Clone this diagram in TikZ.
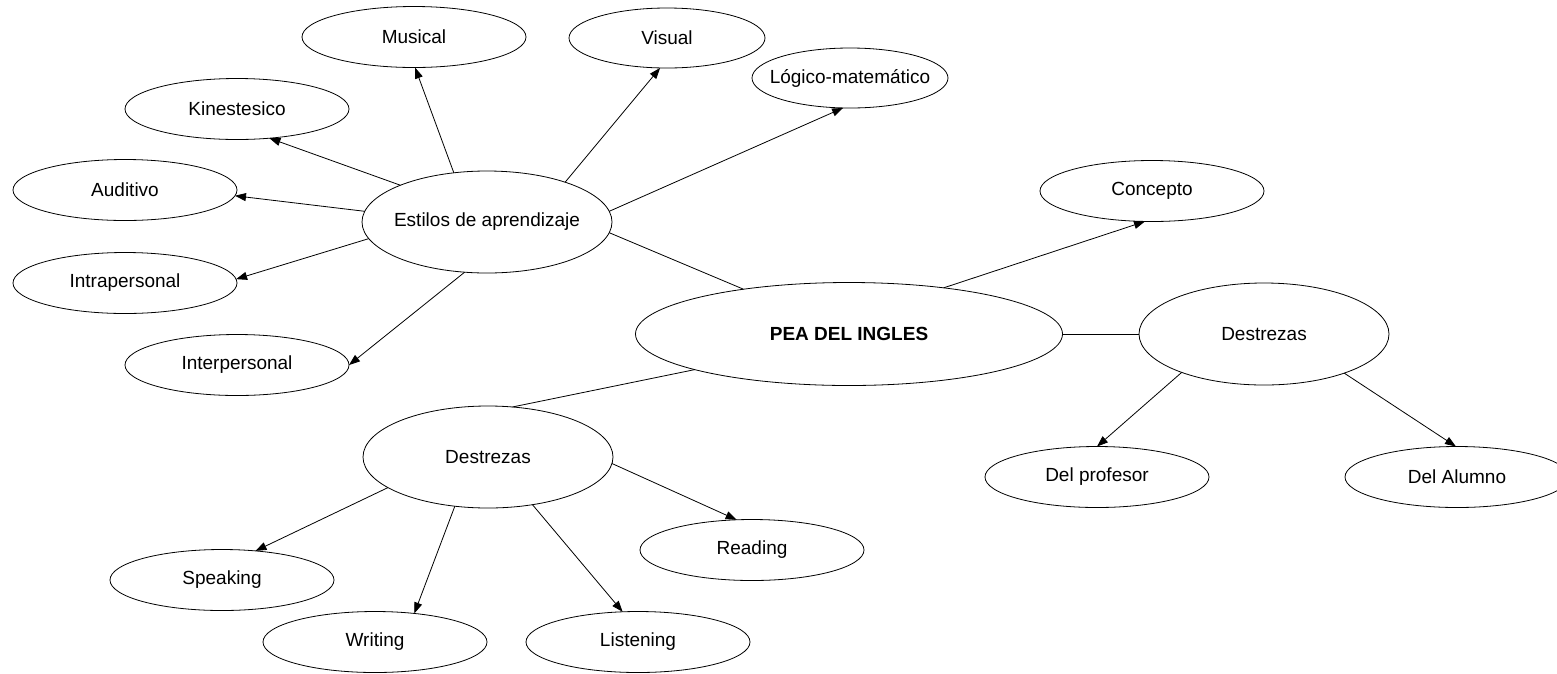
\documentclass[tikz,border=0pt]{standalone}
\usepackage{fontspec}
\setmainfont{Liberation Sans}
\usetikzlibrary{shapes.geometric,arrows.meta}
\begin{document}
\begin{tikzpicture}[x=1pt,y=-1pt,
  ell/.style={ellipse,draw,line width=0.8pt,inner sep=0pt,outer sep=0pt,
    minimum width=224pt,minimum height=61pt,font=\fontsize{19}{22}\selectfont},
  narrow/.style={ell,minimum width=196pt,minimum height=60pt},
  big/.style={ell,minimum width=250pt,minimum height=102pt},
  arr/.style={draw,line width=0.8pt,-{Triangle[length=11pt,width=8pt]}},
  ln/.style={draw,line width=0.8pt}]
\useasboundingbox (0,0) rectangle (1557,673);
\fill[white] (0,0) rectangle (1557,673);
% nodes
\node[ell] (mus) at (414,37) {\makebox[0pt]{Musical}};
\node[narrow] (vis) at (667,38) {\makebox[0pt]{Visual}};
\node[narrow] (log) at (850,78) {\makebox[0pt]{Lógico-matemático}};
\node[ell] (kin) at (237,109) {\makebox[0pt]{Kinestesico}};
\node[ell] (aud) at (125,190) {\makebox[0pt]{Auditivo}};
\node[ell] (intra) at (125,283) {\makebox[0pt]{Intrapersonal}};
\node[ell] (inter) at (237,365) {\makebox[0pt]{Interpersonal}};
\node[big] (est) at (487,222) {\makebox[0pt]{Estilos de aprendizaje}};
\node[ell] (con) at (1152,191) {\makebox[0pt]{Concepto}};
\node[big,minimum width=427pt,minimum height=103pt] (pea) at (849,334) {\makebox[0pt]{\bfseries PEA DEL INGLES}};
\node[big] (desr) at (1264,334) {\makebox[0pt]{Destrezas}};
\node[ell] (prof) at (1097,477) {\makebox[0pt]{Del profesor}};
\node[ell] (alum) at (1457,477) {\makebox[0pt]{Del Alumno}};
\node[big] (desl) at (488,457) {\makebox[0pt]{Destrezas}};
\node[ell] (rea) at (752,550) {\makebox[0pt]{Reading}};
\node[ell] (spk) at (222,580) {\makebox[0pt]{Speaking}};
\node[ell] (wri) at (375,642) {\makebox[0pt]{Writing}};
\node[ell] (lis) at (638,642) {\makebox[0pt]{Listening}};
% connectors
\draw[arr] (est.124) -- (mus.272);
\draw[arr] (est.27) -- (vis.257);
\draw[arr] (est.5) -- (log.257);
\draw[arr] (est.157) -- (kin.318);
\draw[arr] (est.175) -- (aud.357);
\draw[arr] (est.188) -- (intra.2);
\draw[arr] (est.246) -- (inter.0);
\draw[ln] (est.355) -- (pea.157);
\draw[arr] (pea.26) -- (con.257);
\draw[ln] (pea.east) -- (desr.west);
\draw[arr] (desr.205) -- (prof.90);
\draw[arr] (desr.334) -- (alum.92);
\draw[ln] (pea.193) -- (desl.64);
\draw[arr] (desl.197) -- (spk.41);
\draw[arr] (desl.236) -- (wri.36);
\draw[arr] (desl.313) -- (lis.117);
\draw[arr] (desl.357) -- (rea.117);
\end{tikzpicture}
\end{document}
